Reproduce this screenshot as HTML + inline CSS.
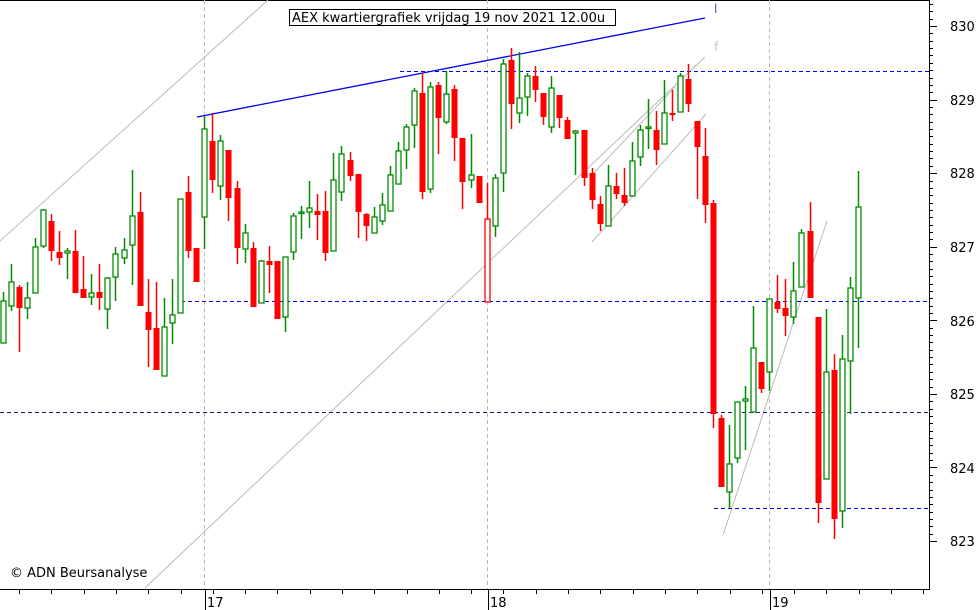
<!DOCTYPE html>
<html><head><meta charset="utf-8"><style>
html,body{margin:0;padding:0;background:#fff;}
svg{display:block;}
text{font-family:"DejaVu Sans","Liberation Sans",sans-serif;}
</style></head><body>
<svg id="c" width="979" height="610" xmlns="http://www.w3.org/2000/svg">
<rect width="979" height="610" fill="#fff"/>
<line x1="0" y1="0.5" x2="929" y2="0.5" stroke="#000" stroke-width="1"/>
<g stroke="#bbb" stroke-width="1" stroke-dasharray="4,3">
<line x1="204.5" y1="0" x2="204.5" y2="589"/>
<line x1="487.5" y1="0" x2="487.5" y2="589"/>
<line x1="769.5" y1="0" x2="769.5" y2="589"/>
</g>
<g stroke="#bbb" stroke-width="1" fill="none">
<line x1="0" y1="241" x2="268" y2="0"/>
<line x1="145" y1="588" x2="705" y2="57"/>
<line x1="592" y1="175" x2="675" y2="87"/>
<line x1="592" y1="242" x2="706" y2="114"/>
<line x1="723" y1="535" x2="827" y2="221"/>
</g>
<g stroke="#0000ee" stroke-width="1" stroke-dasharray="4,3">
<line x1="400" y1="71.5" x2="929" y2="71.5"/>
<line x1="181" y1="301.5" x2="929" y2="301.5"/>
<line x1="0" y1="412.5" x2="929" y2="412.5" stroke="#1a1a80"/>
<line x1="714" y1="508.5" x2="929" y2="508.5"/>
</g>
<line x1="197" y1="117" x2="705" y2="18" stroke="#0000ee" stroke-width="1.3"/>
<g id="cd"></g>
<rect x="289.5" y="9.5" width="326" height="16" fill="#fff" stroke="#000"/>
<text x="292" y="22" font-size="13" fill="#000">AEX kwartiergrafiek vrijdag 19 nov 2021 12.00u</text>
<text x="714" y="13" font-size="12" fill="#5050c0">l</text>
<text x="714" y="51" font-size="12" fill="#c8c8c8">f</text>
<text x="10" y="577" font-size="13" fill="#000">© ADN Beursanalyse</text>
<line x1="929.5" y1="0" x2="929.5" y2="590" stroke="#000"/>
<line x1="0" y1="589.5" x2="929" y2="589.5" stroke="#000"/>
<g id="ax" stroke="#000" stroke-width="1"></g>
<g font-size="13" fill="#000">
<text x="950" y="31">830</text><text x="950" y="105">829</text><text x="950" y="178">828</text>
<text x="950" y="252">827</text><text x="950" y="326">826</text><text x="950" y="399">825</text>
<text x="950" y="473">824</text><text x="950" y="546">823</text>
<text x="207" y="607">17</text><text x="490" y="607">18</text><text x="772" y="607">19</text>
</g>
</svg>
<script>
var d=[
[292,343,301,343,'g'],[264,311,282,306,'g'],[285,352,287,308,'r'],[282,319,298,308,'g'],[238,293,247,293,'g'],
[209,248,210,246,'g'],[214,261,221,251,'r'],[231,265,252,258,'r'],[248,279,251,253,'g'],[230,293,251,293,'r'],
[256,298,289,298,'r'],[274,305,293,297,'g'],[264,310,292,298,'r'],[277,329,278,309,'g'],[247,301,254,277,'g'],
[238,264,250,258,'g'],[170,285,216,245,'g'],[192,306,212,306,'r'],[279,367,312,330,'r'],[282,370,328,370,'r'],
[298,376,327,376,'g'],[279,344,315,323,'g'],[199,313,199,313,'g'],[176,258,192,251,'r'],[248,282,248,282,'r'],
[116,249,129,217,'g'],[113,193,141,180,'r'],[135,200,141,186,'g'],[150,221,150,198,'r'],[181,264,188,248,'r'],
[224,263,233,249,'g'],[242,307,248,307,'r'],[260,303,261,303,'g'],[246,293,261,265,'r'],[261,319,261,319,'r'],
[257,332,257,317,'g'],[213,260,216,252,'g'],[206,239,212,213,'g'],[181,228,208,212,'g'],[194,240,211,215,'r'],
[191,261,211,253,'r'],[153,251,180,251,'g'],[146,201,154,192,'g'],[152,181,160,176,'r'],[174,238,174,212,'r'],
[213,241,214,226,'r'],[207,233,217,233,'g'],[193,225,205,221,'g'],[166,211,175,211,'g'],[142,184,151,184,'g'],
[124,169,127,150,'g'],[88,148,91,125,'g'],[73,199,93,192,'r'],[82,193,87,189,'g'],[82,154,85,118,'r'],
[71,124,94,122,'g'],[85,161,89,138,'r'],[138,209,138,182,'r'],[134,188,175,180,'g'],[176,203,176,203,'r'],
[183,302,219,302,'o'],[174,237,178,226,'g'],[59,192,64,173,'g'],[48,129,60,104,'r'],[52,123,98,113,'g'],
[73,116,76,97,'g'],[66,102,76,90,'r'],[93,125,93,117,'r'],[76,133,88,127,'g'],[95,128,95,118,'r'],
[117,139,120,139,'r'],[130,175,131,133,'g'],[130,186,130,178,'r'],[168,209,173,200,'r'],[196,231,204,224,'r'],
[165,226,186,226,'g'],[173,199,186,194,'r'],[168,206,195,203,'r'],[142,196,161,196,'g'],[125,166,130,157,'g'],
[99,149,127,128,'g'],[111,165,130,150,'r'],[80,144,113,144,'g'],[90,121,113,115,'r'],[73,112,76,112,'g'],
[64,112,79,104,'r'],[121,199,121,147,'r'],[128,223,156,205,'r'],[200,428,203,414,'r'],[415,487,418,487,'r'],
[425,508,464,492,'g'],[402,463,402,458,'g'],[386,450,399,401,'g'],[306,412,348,412,'g'],[362,393,362,389,'r'],
[299,391,299,372,'g'],[275,313,302,309,'r'],[279,336,308,316,'r'],[262,324,291,317,'g'],[229,287,233,287,'g'],
[202,298,231,298,'r'],[317,523,317,503,'r'],[309,479,372,479,'g'],[354,539,370,519,'r'],[335,528,359,511,'g'],
[277,414,288,361,'g'],[171,348,207,298,'g']];
var ns="http://www.w3.org/2000/svg",g=document.getElementById('cd'),s='';
for(var i=0;i<d.length;i++){var c=d[i],x=Math.round(2.5+8.07*i)+0.5;
var col=c[4]=='g'?'#008c00':'#ff0000';
s+='<line x1="'+x+'" y1="'+c[0]+'" x2="'+x+'" y2="'+c[1]+'" stroke="'+col+'" stroke-width="1.5"/>';
var h=Math.max(c[3]-c[2],1.5);
if(c[4]=='r')s+='<rect x="'+(x-3)+'" y="'+c[2]+'" width="6" height="'+h+'" fill="#ff0000"/>';
else s+='<rect x="'+(x-2.5)+'" y="'+c[2]+'" width="5" height="'+h+'" fill="#fff" stroke="'+col+'" stroke-width="1.3"/>';}
g.innerHTML=s;
var a='';
for(var v=823;v<=830.5;v+=0.1){var y=Math.round(541-(v-823)*73.57)+0.5;if(y<1)continue;
var maj=Math.abs(v-Math.round(v))<0.01;a+='<line x1="929" y1="'+y+'" x2="'+(maj?937:933)+'" y2="'+y+'"/>';}
for(var k=0;k<30;k++){var x=Math.round(19+32.3*k)+0.5;if(x>925)break;a+='<line x1="'+x+'" y1="589" x2="'+x+'" y2="594"/>';}
a+='<line x1="205.5" y1="589" x2="205.5" y2="610"/><line x1="488.5" y1="589" x2="488.5" y2="610"/><line x1="770.5" y1="589" x2="770.5" y2="610"/>';
document.getElementById('ax').innerHTML=a;
</script>
</body></html>
